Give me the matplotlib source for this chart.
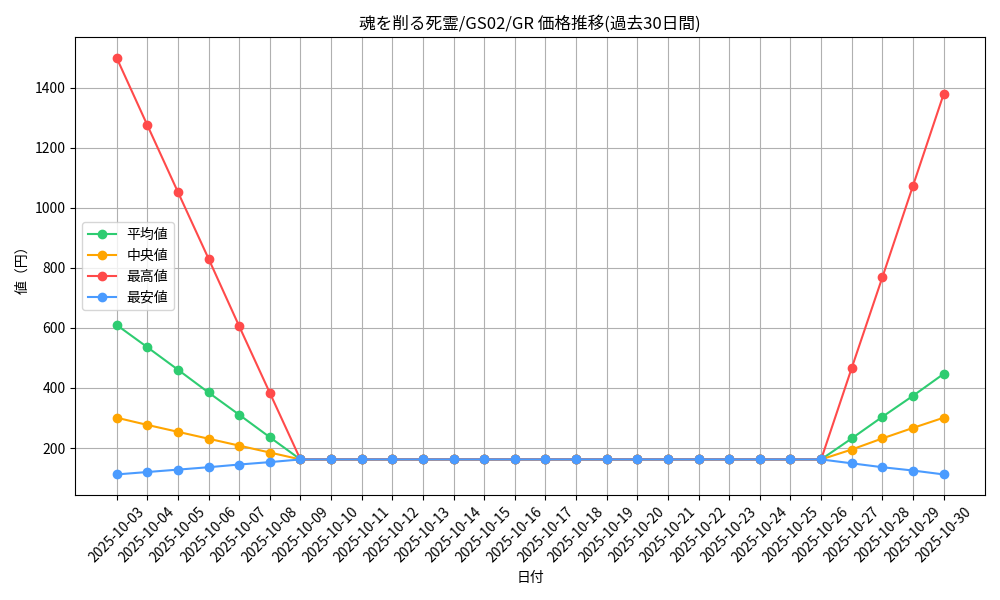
import matplotlib
matplotlib.use("Agg")
import matplotlib.pyplot as plt
import pandas as pd

plt.rcParams['font.family'] = ['Noto Sans CJK JP', 'DejaVu Sans']

# 日付
dates = pd.date_range("2025-10-03", "2025-10-30").strftime("%Y-%m-%d").tolist()

# 価格データ（円）
avg_vals = [610, 536, 461, 385, 311, 236] + [162] * 18 + [232, 304, 374, 447]
median_vals = [301, 277, 254, 231, 208, 185] + [162] * 18 + [195, 232, 267, 301]
max_vals = [1500, 1276, 1053, 831, 606, 384] + [162] * 18 + [467, 769, 1074, 1379]
min_vals = [112, 120, 128, 136, 145, 153] + [162] * 18 + [149, 136, 125, 112]

series = [
    ("平均値", avg_vals, "#2ECC71"),
    ("中央値", median_vals, "#FFA500"),
    ("最高値", max_vals, "#FF4A4A"),
    ("最安値", min_vals, "#4A9BFF"),
]

fig, ax = plt.subplots(figsize=(10, 6), dpi=100)

for label, vals, color in series:
    ax.plot(dates, vals, marker="o", color=color, label=label, linewidth=1.5, markersize=6)

ax.set_title("魂を削る死霊/GS02/GR 価格推移(過去30日間)")
ax.set_xlabel("日付")
ax.set_ylabel("値（円）")
ax.grid(True)
ax.legend(loc="center left")
plt.xticks(rotation=45)

plt.tight_layout()
plt.savefig("out.png", dpi=100)
